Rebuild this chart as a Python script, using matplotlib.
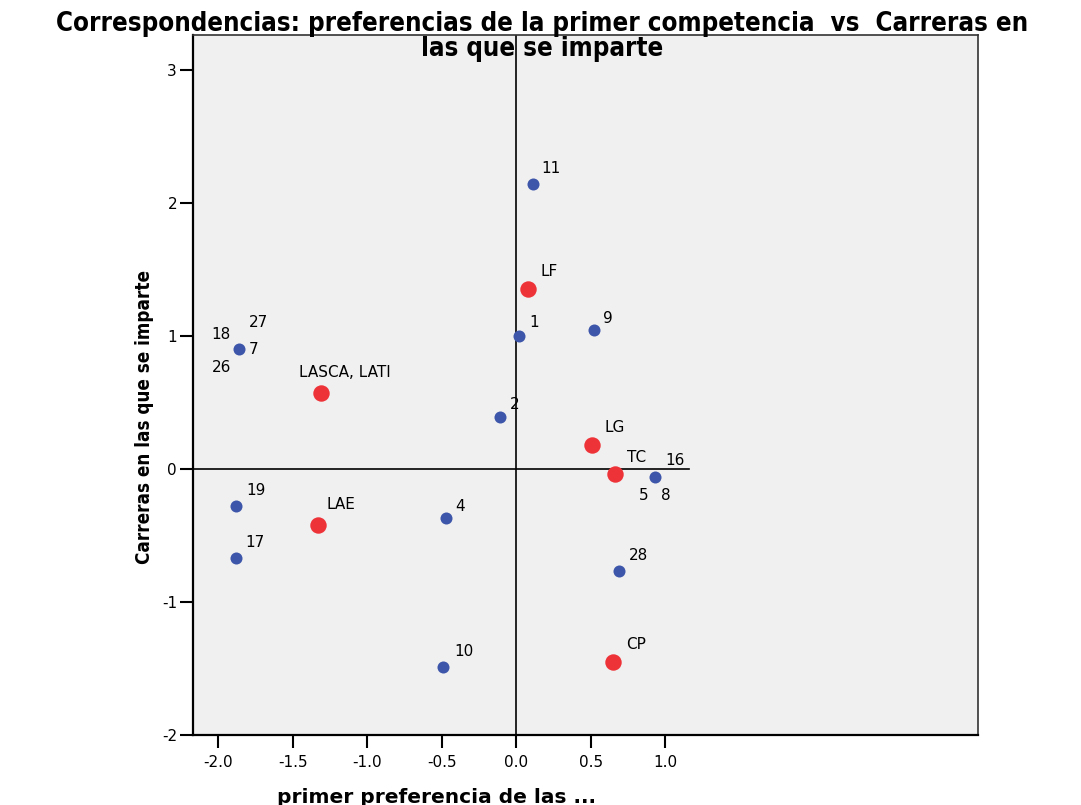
import matplotlib
matplotlib.use('Agg')
import matplotlib.pyplot as plt

# category points (rows) - blue
rowNames = ['11', '9', '1', '7', '2', '16', '19', '4', '17', '28', '10']
rowX = [0.11, 0.52, 0.02, -1.86, -0.11, 0.93, -1.88, -0.47, -1.88, 0.69, -0.49]
rowY = [2.14, 1.045, 1.00, 0.90, 0.39, -0.06, -0.28, -0.37, -0.67, -0.77, -1.49]

# extra labels sharing a point with another row
sharedLabels = {'18': '7', '27': '7', '26': '7', '5': '16', '8': '16'}

# column points - red
colNames = ['LF', 'LASCA, LATI', 'LG', 'TC', 'LAE', 'CP']
colX = [0.076, -1.31, 0.51, 0.66, -1.33, 0.65]
colY = [1.35, 0.57, 0.18, -0.04, -0.42, -1.45]

xTicks = [-2.0, -1.5, -1.0, -0.5, 0.0, 0.5, 1.0]
yTicks = [-2, -1, 0, 1, 2, 3]

# label offsets in pixels (dx, dy down)
labelOffsets = {
    '11': (18, -16), '9': (14, -11), '1': (15, -13), '7': (14, 0),
    '2': (15, -12), '16': (20, -16), '19': (20, -16), '4': (14, -12),
    '17': (19, -16), '28': (19, -16), '10': (21, -16),
    '18': (-18, -15), '27': (19, -27), '26': (-18, 18), '5': (-11, 19), '8': (11, 19),
    'LF': (22, -18), 'LASCA, LATI': (24, -20), 'LG': (22, -17), 'TC': (22, -17),
    'LAE': (23, -20), 'CP': (23, -17),
}

plt.rcParams['font.family'] = ['DejaVu Sans']
plt.rcParams['axes.unicode_minus'] = False

fig = plt.figure(figsize=(10.81, 8.05), dpi=100)
ax = fig.add_axes([193 / 1081, 1 - 735 / 805, (978 - 193) / 1081, (735 - 35) / 805])
ax.set_facecolor('#F0F0F0')

ax.set_xlim(-2.17, 3.10)
ax.set_ylim(-2.0, 3.26)

# reference lines
ax.axvline(0, color='black', lw=1.2, zorder=1)
ax.plot([-2.17, 1.16], [0, 0], color='black', lw=1.2, zorder=1)

ax.scatter(rowX, rowY, s=75, color='#3D56AA', zorder=3, linewidths=0)
ax.scatter(colX, colY, s=140, color='#EE3338', zorder=3, linewidths=0)

px2pt = 0.72


def putLabel(name, x, y):
    dx, dy = labelOffsets[name]
    ax.annotate(name, (x, y), xytext=(dx * px2pt, -dy * px2pt), textcoords='offset points',
                ha='center', va='center', fontsize=11)


for name, x, y in zip(rowNames, rowX, rowY):
    putLabel(name, x, y)
for name, owner in sharedLabels.items():
    i = rowNames.index(owner)
    putLabel(name, rowX[i], rowY[i])
for name, x, y in zip(colNames, colX, colY):
    putLabel(name, x, y)

ax.set_xticks(xTicks)
ax.set_xticklabels(['%.1f' % t for t in xTicks])
ax.set_yticks(yTicks)
ax.set_yticklabels([str(t) for t in yTicks])
ax.tick_params(axis='both', direction='out', length=9.5, width=1.5, labelsize=11, color='black')
ax.tick_params(axis='x', pad=5)
ax.tick_params(axis='y', pad=2)

for side in ['left', 'bottom']:
    ax.spines[side].set_linewidth(1.6)
    ax.spines[side].set_color('black')
for side in ['top', 'right']:
    ax.spines[side].set_linewidth(1.2)
    ax.spines[side].set_color('#333333')

fig.text(542 / 1081, 1 - 11 / 805,
         'Correspondencias: preferencias de la primer competencia  vs  Carreras en\nlas que se imparte',
         ha='center', va='top', fontsize=18.5, fontweight='bold', fontstretch='condensed',
         linespacing=0.95)
fig.text(145 / 1081, 1 - 417 / 805, 'Carreras en las que se imparte', rotation=90,
         ha='center', va='center', fontsize=13.5, fontweight='bold', fontstretch='condensed')
fig.text(437 / 1081, 1 - 797 / 805, 'primer preferencia de las ...', ha='center', va='center',
         fontsize=14.5, fontweight='bold')

fig.savefig('out.png', dpi=100)
